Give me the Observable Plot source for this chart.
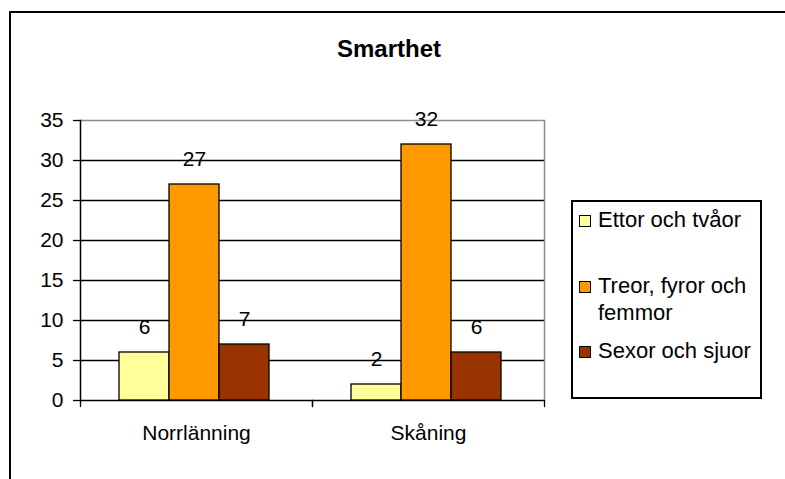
<!DOCTYPE html>
<html>
<head>
<meta charset="utf-8">
<script src="https://cdn.jsdelivr.net/npm/d3@7"></script>
<script src="https://cdn.jsdelivr.net/npm/@observablehq/plot@0.6"></script>
<style>
  html, body { margin: 0; padding: 0; background: #fff; width: 785px; height: 479px; overflow: hidden; }
  #wrap { position: relative; width: 785px; height: 479px; font-family: "Liberation Sans", Arial, sans-serif; color: #000; }
  #border { position: absolute; left: 9px; top: 11px; width: 830px; height: 530px; border: 2px solid #000; box-sizing: border-box; }
  #chart { position: absolute; left: 0; top: 0; }
  #title { position: absolute; left: 0; width: 778px; top: 35px; line-height: 28px; text-align: center; font-weight: bold; font-size: 24px; }
  #legend { position: absolute; left: 571px; top: 200px; width: 191px; height: 199px; border: 2px solid #000; box-sizing: border-box; font-size: 22px; }
  .entry { position: absolute; left: 6px; display: flex; align-items: baseline; line-height: 27px; }
  .swatch { width: 10px; height: 10px; border: 1px solid #000; margin-right: 7px; flex: none; }
  .label { width: 158px; }
</style>
</head>
<body>
<div id="wrap">
  <div id="border"></div>
  <div id="chart"></div>
  <div id="title"></div>
  <div id="legend"></div>
</div>
<script>
// ---- data ----
const title = "Smarthet";
const categories = ["Norrlänning", "Skåning"];
const series = ["Ettor och tvåor", "Treor, fyror och femmor", "Sexor och sjuor"];
const ettorOchTvaor = [6, 2];
const treorFyrorOchFemmor = [27, 32];
const sexorOchSjuor = [7, 6];
const yTicks = [0, 5, 10, 15, 20, 25, 30, 35];

// ---- styles ----
const colors = ["#FFFF99", "#FF9900", "#993300"];
const legendTops = [4, 70, 135];

const seriesValues = [ettorOchTvaor, treorFyrorOchFemmor, sexorOchSjuor];
const table = categories.flatMap((c, i) =>
  seriesValues.map((vals, j) => ({category: c, series: series[j], value: vals[i]}))
);

const W = 785, H = 479, mL = 80, mR = 241, mT = 120, mB = 79;
const font = "Liberation Sans, Arial, sans-serif";
const lineShape = {draw(context, l) { context.moveTo(0, 0); context.lineTo(0, -l); }};

const chart = Plot.plot({
  width: W, height: H,
  marginLeft: mL, marginRight: mR, marginTop: mT, marginBottom: mB,
  style: {fontFamily: font, fontSize: "21px", color: "#000", background: "transparent", overflow: "visible"},
  fx: {domain: categories, padding: 0, label: null},
  x: {domain: series, paddingInner: 0, paddingOuter: 0.775, align: 0.48, axis: null},
  y: {domain: [0, 35], axis: null},
  color: {domain: series, range: colors},
  marks: [
    Plot.ruleY(yTicks.filter(v => v < 35), {stroke: "#000", strokeWidth: 1.3}),
    Plot.ruleY([35], {stroke: "#8c8c8c", strokeWidth: 1.3}),
    Plot.barY(table, {fx: "category", x: "series", y: "value", fill: "series", stroke: "#000", strokeWidth: 1.3}),
    Plot.frame({anchor: "left", facet: "super", stroke: "#000", strokeWidth: 1.5}),
    Plot.frame({anchor: "right", facet: "super", stroke: "#8c8c8c", strokeWidth: 1.5}),
    Plot.vector(categories, {fx: d => d, frameAnchor: "bottom-left", length: 6, rotate: 180, anchor: "start", shape: lineShape, stroke: "#000", strokeWidth: 1.3}),
    Plot.vector(categories, {fx: d => d, frameAnchor: "bottom-right", length: 6, rotate: 180, anchor: "start", shape: lineShape, stroke: "#000", strokeWidth: 1.3}),
    Plot.axisY({anchor: "left", ticks: yTicks, tickSize: 7, tickPadding: 10, fontSize: 21, tickFormat: d => String(d), label: null, stroke: "#000", strokeWidth: 1.3}),
    Plot.axisFx({anchor: "bottom", tickSize: 0, tickPadding: 25, fontSize: 21, label: null}),
    Plot.text(table, {fx: "category", x: "series", y: "value", text: d => String(d.value), dy: -19, lineAnchor: "bottom", fontSize: 21, fill: "#000"})
  ]
});
document.getElementById("chart").appendChild(chart);

document.getElementById("title").textContent = title;

const legend = d3.select("#legend");
series.forEach((s, i) => {
  const e = legend.append("div").attr("class", "entry").style("top", legendTops[i] + "px");
  e.append("div").attr("class", "swatch").style("background", colors[i]);
  e.append("div").attr("class", "label").text(s);
});
</script>
</body>
</html>
